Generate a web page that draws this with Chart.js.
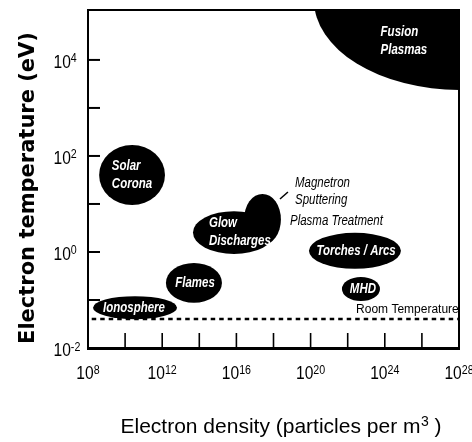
<!DOCTYPE html>
<html><head><meta charset="utf-8">
<script src="https://cdn.jsdelivr.net/npm/chart.js@4/dist/chart.umd.min.js"></script>
<style>html,body{margin:0;padding:0;background:#fff;}#wrap{width:472px;height:442px;}</style>
</head><body><div id="wrap"><canvas id="c" width="472" height="442"></canvas></div>
<script>
// ---------- data (log10 values) ----------
const regionNames   = ['Solar Corona','Fusion Plasmas','Glow Discharges','Magnetron Sputtering','Torches / Arcs','MHD','Flames','Ionosphere'];
// electron density range, log10(m^-3)
const densityLogMin = [8.6, 20.18, 13.66, 16.41, 19.91, 21.69, 12.2, 8.27];
const densityLogMax = [12.15, 35.92, 18.08, 18.4, 24.87, 23.74, 15.22, 12.8];
// electron temperature range, log10(eV)
const tempLogMin    = [0.98, 3.375, -0.04, 0.146, -0.35, -1.02, -1.06, -1.40];
const tempLogMax    = [2.23, 7.125, 0.85, 1.21, 0.40, -0.52, -0.23, -0.92];

// labels written inside the regions (white)
const regionText       = [['Solar','Corona'],['Fusion','Plasmas'],['Glow','Discharges'],['Torches / Arcs'],['MHD'],['Flames'],['Ionosphere']];
const regionTextDenLog = [10.37, 25.03, 16.19, 22.45, 22.82, 13.77, 10.48];
const regionTextTmpLog = [1.604, 4.396, 0.417, 0.021, -0.771, -0.646, -1.167];
const regionTextLeft   = [true, true, true, false, false, false, false];

// black annotations outside the regions
const noteText       = [['Magnetron','Sputtering'],['Plasma Treatment'],['Room Temperature']];
const noteDenLog     = [19.16, 18.89, 22.45];
const noteTmpLog     = [1.26, 0.646, -1.21];
const leaderDenLog   = [18.35, 18.78];
const leaderTmpLog   = [1.104, 1.25];

// room temperature line
const roomTempEV     = 0.04;
const roomTempDensity= [Math.pow(10, 8.2), 1e28];

// axes
const xLabelExp = [8, 12, 16, 20, 24, 28];
const xTickExp  = [10, 12, 14, 16, 18, 20, 22, 24, 26];
const yLabelExp = [4, 2, 0, -2];
const yTickExp  = [4, 3, 2, 1, 0, -1];
const xTitle = 'Electron density (particles per m';
const xTitleSup = '3';
const xTitleEnd = ' )';
const yTitle = 'Electron temperature (eV)';

const SANS = '"Liberation Sans",Arial,sans-serif';
const NARROW_SCALE = 0.82;

function fillNarrow(ctx, text, x, y, font, align) {
  ctx.save();
  ctx.font = font;
  ctx.translate(x, y);
  ctx.scale(NARROW_SCALE, 1);
  ctx.textAlign = align;
  ctx.fillText(text, 0, 0);
  ctx.restore();
}
function narrowWidth(ctx, text, font) {
  ctx.save(); ctx.font = font; const w = ctx.measureText(text).width * NARROW_SCALE; ctx.restore(); return w;
}

const regionPlugin = {
  id: 'regions',
  beforeDatasetsDraw(chart) {
    const {ctx, chartArea: a, scales: {x, y}} = chart;
    ctx.save();
    ctx.beginPath(); ctx.rect(a.left, a.top, a.right - a.left, a.bottom - a.top); ctx.clip();
    ctx.fillStyle = '#000';
    for (let i = 0; i < regionNames.length; i++) {
      const x0 = x.getPixelForValue(Math.pow(10, densityLogMin[i]));
      const x1 = x.getPixelForValue(Math.pow(10, densityLogMax[i]));
      const y0 = y.getPixelForValue(Math.pow(10, tempLogMin[i]));
      const y1 = y.getPixelForValue(Math.pow(10, tempLogMax[i]));
      ctx.beginPath();
      ctx.ellipse((x0 + x1) / 2, (y0 + y1) / 2, Math.abs(x1 - x0) / 2, Math.abs(y0 - y1) / 2, 0, 0, Math.PI * 2);
      ctx.fill();
    }
    ctx.restore();
  },
  afterDraw(chart) {
    const {ctx, chartArea: a, scales: {x, y}} = chart;
    const X = v => x.getPixelForValue(Math.pow(10, v));
    const Y = v => y.getPixelForValue(Math.pow(10, v));
    ctx.save();
    ctx.textBaseline = 'middle';
    // region labels
    ctx.fillStyle = '#fff';
    const lf = 'italic bold 14px ' + SANS;
    for (let i = 0; i < regionText.length; i++) {
      const lines = regionText[i];
      const cx = X(regionTextDenLog[i]), cy = Y(regionTextTmpLog[i]);
      const lh = 17.5;
      const leftBlock = regionTextLeft[i];
      let ax = cx;
      if (leftBlock) {
        let w = 0; lines.forEach(t => w = Math.max(w, narrowWidth(ctx, t, lf)));
        ax = cx - w / 2;
      }
      lines.forEach((t, k) => fillNarrow(ctx, t, ax, cy + (k - (lines.length - 1) / 2) * lh, lf, leftBlock ? 'left' : 'center'));
    }
    // notes
    ctx.fillStyle = '#000';
    for (let i = 0; i < noteText.length; i++) {
      const lines = noteText[i];
      lines.forEach((t, k) => {
        const yy = Y(noteTmpLog[i]) + (k - (lines.length - 1) / 2) * 17;
        if (i < 2) fillNarrow(ctx, t, X(noteDenLog[i]), yy, 'italic 14px ' + SANS, 'left');
        else { ctx.font = '12px ' + SANS; ctx.textAlign = 'left'; ctx.fillText(t, X(noteDenLog[i]), yy); }
      });
    }
    ctx.strokeStyle = '#000'; ctx.lineWidth = 1.5;
    ctx.beginPath(); ctx.moveTo(X(leaderDenLog[0]), Y(leaderTmpLog[0])); ctx.lineTo(X(leaderDenLog[1]), Y(leaderTmpLog[1])); ctx.stroke();

    // frame
    ctx.lineWidth = 2;
    ctx.strokeRect(a.left, a.top, a.right - a.left, a.bottom - a.top);
    ctx.lineWidth = 3;
    ctx.beginPath(); ctx.moveTo(a.left - 1, a.bottom + 0.5); ctx.lineTo(a.right + 1, a.bottom + 0.5); ctx.stroke();
    // inner ticks
    ctx.lineWidth = 1.6;
    xTickExp.forEach(e => { const px = X(e); ctx.beginPath(); ctx.moveTo(px, a.bottom); ctx.lineTo(px, a.bottom - 15); ctx.stroke(); });
    ctx.lineWidth = 2;
    yTickExp.forEach(e => { const py = Y(e); ctx.beginPath(); ctx.moveTo(a.left, py); ctx.lineTo(a.left + 12, py); ctx.stroke(); });

    // tick labels
    ctx.textBaseline = 'alphabetic';
    const bf = '19px ' + SANS, sf = '13px ' + SANS;
    const drawPow = (e, px, base, align) => {
      const s = String(e);
      const wb = narrowWidth(ctx, '10', bf);
      const ws = narrowWidth(ctx, s, sf);
      const x0 = align === 'center' ? px - (wb + ws) / 2 : px;
      fillNarrow(ctx, '10', x0, base, bf, 'left');
      fillNarrow(ctx, s, x0 + wb, base - 5.5, sf, 'left');
    };
    xLabelExp.forEach(e => drawPow(e, X(e), 379, 'center'));
    yLabelExp.forEach(e => drawPow(e, 53.5, Y(e) + 8, 'left'));

    // axis titles
    ctx.font = '21px ' + SANS;
    ctx.textAlign = 'left';
    const tx = 120.5, ty = 433;
    ctx.fillText(xTitle, tx, ty);
    const w1 = ctx.measureText(xTitle).width;
    ctx.font = '14px ' + SANS;
    ctx.fillText(xTitleSup, tx + w1 + 0.5, ty - 7.5);
    const w2 = ctx.measureText(xTitleSup).width;
    ctx.font = '21px ' + SANS;
    ctx.fillText(xTitleEnd, tx + w1 + 0.5 + w2, ty);

    ctx.save();
    ctx.translate(34, 188);
    ctx.rotate(-Math.PI / 2);
    ctx.font = 'bold 21px "DejaVu Sans",sans-serif';
    ctx.textAlign = 'center';
    ctx.fillText(yTitle, 0, 0);
    ctx.restore();
    ctx.restore();
  }
};

new Chart(document.getElementById('c'), {
  type: 'scatter',
  data: {
    datasets: [{
      label: 'Room Temperature',
      data: roomTempDensity.map(d => ({x: d, y: roomTempEV})),
      showLine: true,
      borderColor: '#000',
      borderWidth: 2.5,
      borderDash: [4.5, 4],
      pointRadius: 0,
      fill: false
    }]
  },
  options: {
    responsive: false,
    animation: false,
    devicePixelRatio: 1,
    layout: {padding: {left: 88, top: 10, right: 13, bottom: 94}},
    plugins: {legend: {display: false}, tooltip: {enabled: false}},
    scales: {
      x: {type: 'logarithmic', min: 1e8, max: 1e28, display: false},
      y: {type: 'logarithmic', min: 1e-2, max: Math.pow(10, 5.04), display: false}
    }
  },
  plugins: [regionPlugin]
});
</script></body></html>
